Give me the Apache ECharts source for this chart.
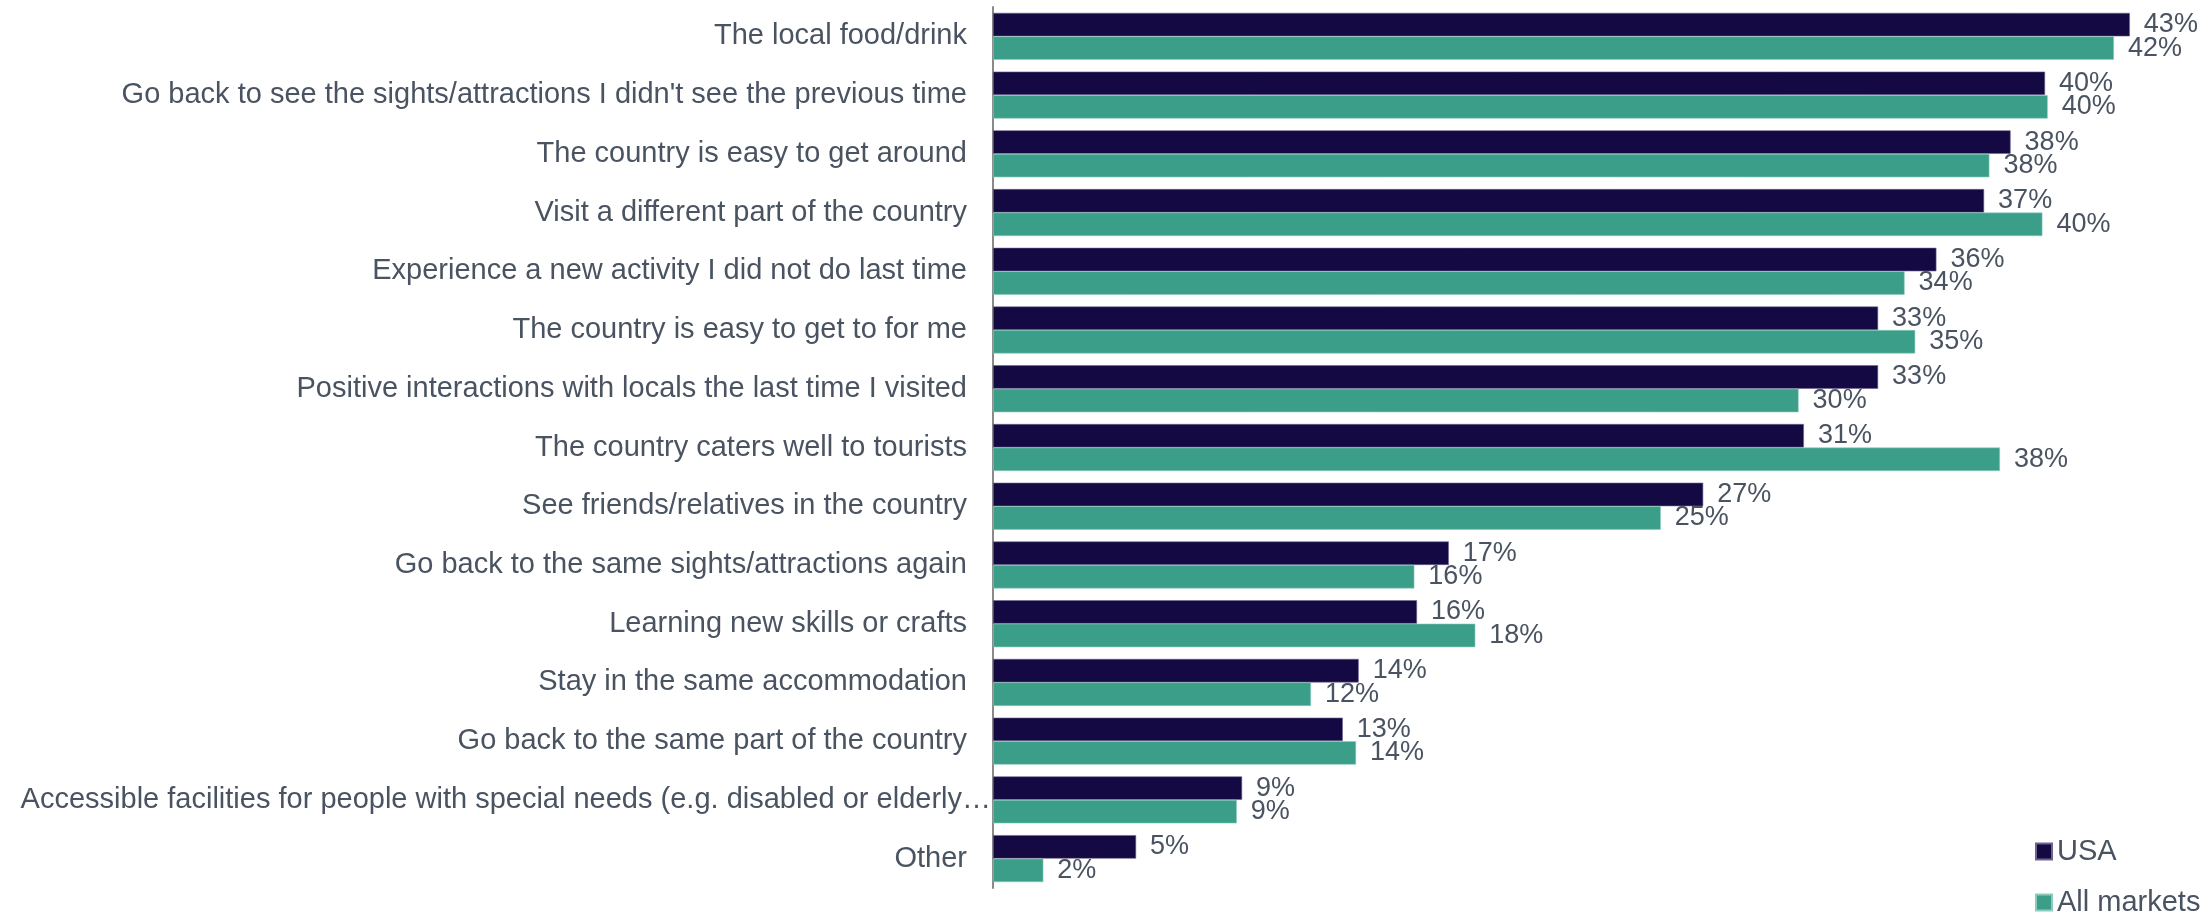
<!DOCTYPE html>
<html>
<head>
<meta charset="utf-8">
<script src="https://cdn.jsdelivr.net/npm/echarts@6/dist/echarts.min.js"></script>
<style>
html,body{margin:0;padding:0;background:#fff;}
#chart{width:2210px;height:915px;}
</style>
</head>
<body>
<div id="chart"></div>
<script>
const categories = [
  "The local food/drink",
  "Go back to see the sights/attractions I didn't see the previous time",
  "The country is easy to get around",
  "Visit a different part of the country",
  "Experience a new activity I did not do last time",
  "The country is easy to get to for me",
  "Positive interactions with locals the last time I visited",
  "The country caters well to tourists",
  "See friends/relatives in the country",
  "Go back to the same sights/attractions again",
  "Learning new skills or crafts",
  "Stay in the same accommodation",
  "Go back to the same part of the country",
  "Accessible facilities for people with special needs (e.g. disabled or elderly…",
  "Other"
];
const usaValues = [42.9, 39.7, 38.4, 37.4, 35.6, 33.4, 33.4, 30.6, 26.8, 17.2, 16.0, 13.8, 13.2, 9.4, 5.4];
const allMarketsValues = [42.3, 39.8, 37.6, 39.6, 34.4, 34.8, 30.4, 38.0, 25.2, 15.9, 18.2, 12.0, 13.7, 9.2, 1.9];
const seriesNames = ["USA", "All markets"];

const textColor = '#4a5361';
const fontFam = 'Liberation Sans, Arial, sans-serif';
const labelCfg = {
  show: true,
  position: 'right',
  distance: 14,
  color: textColor,
  fontSize: 27,
  fontFamily: fontFam,
  formatter: p => Math.round(p.value) + '%'
};
const legendBase = {
  orient: 'vertical',
  left: 2030,
  itemWidth: 16,
  itemHeight: 16,
  icon: 'rect',
  textStyle: {color: textColor, fontSize: 29, fontFamily: fontFam}
};

const chart = echarts.init(document.getElementById('chart'), null, {renderer: 'canvas'});
chart.setOption({
  animation: false,
  backgroundColor: '#ffffff',
  grid: {left: 993, top: 7, width: 1192.5, height: 881, containLabel: false, outerBoundsMode: 'none'},
  xAxis: {
    type: 'value', min: 0, max: 45, show: false,
    splitLine: {show: false}
  },
  yAxis: {
    type: 'category',
    data: categories,
    inverse: true,
    axisLine: {show: true, lineStyle: {color: '#8a8a8a', width: 2}},
    axisTick: {show: false},
    axisLabel: {
      color: textColor,
      fontSize: 29,
      margin: 26,
      fontFamily: fontFam,
      formatter: (v) => v.endsWith('…') ? '{long|' + v + '}' : v,
      rich: {
        long: {color: textColor, fontSize: 29, fontFamily: fontFam, padding: [0, -24, 0, 0]}
      }
    }
  },
  legend: [
    Object.assign({}, legendBase, {top: 832, data: [seriesNames[0]]}),
    Object.assign({}, legendBase, {top: 883, data: [seriesNames[1]]})
  ],
  series: [
    {
      name: seriesNames[0], type: 'bar', data: usaValues,
      barGap: '0%', barCategoryGap: '20%',
      itemStyle: {color: '#140943', borderColor: '#6d6590', borderWidth: 0.6},
      label: labelCfg
    },
    {
      name: seriesNames[1], type: 'bar', data: allMarketsValues,
      barGap: '0%', barCategoryGap: '20%',
      itemStyle: {color: '#3a9e88', borderColor: '#8fcbbd', borderWidth: 0.6},
      label: labelCfg
    }
  ]
});
</script>
</body>
</html>
